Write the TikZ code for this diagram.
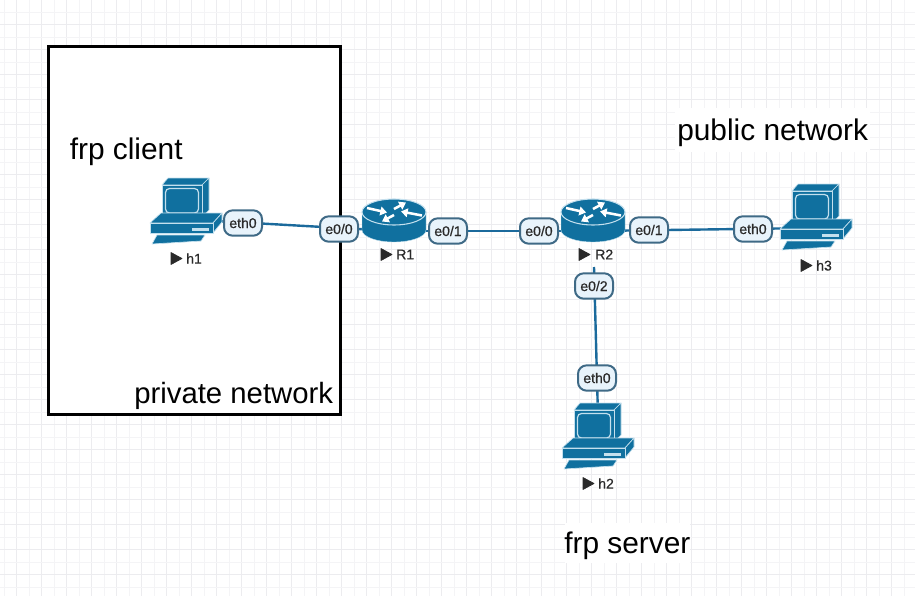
\documentclass[tikz,border=0pt]{standalone}
\usepackage{fontspec}
\usetikzlibrary{arrows.meta}
\setmainfont{Liberation Sans}
\newfontfamily\semib[FakeBold=0.6]{Liberation Sans}
\definecolor{dev}{HTML}{10709F}
\definecolor{devline}{HTML}{C4E0EE}
\definecolor{linkc}{HTML}{1B6A9C}
\definecolor{lblfill}{HTML}{E8F3FB}
\definecolor{lbldraw}{HTML}{3F6A86}
\definecolor{gridc}{HTML}{F4F4F6}
\definecolor{gridd}{HTML}{ECECEF}
\definecolor{txtc}{HTML}{2A2A2A}
\tikzset{
  x=0.75pt,y=-0.75pt,
  link/.style={draw=linkc,line width=1.8pt},
  ifl/.style={draw=lbldraw,line width=1.5pt,fill=lblfill,rounded corners=6.5pt,minimum width=28.5pt,minimum height=19pt,inner sep=0pt,font=\semib\fontsize{10.5}{11}\selectfont,text=txtc},
  big/.style={font=\fontsize{22.4}{26}\selectfont,text=black,inner sep=0pt},
  devname/.style={font=\semib\fontsize{10.5}{11}\selectfont,text=txtc,inner sep=0pt},
  playmark/.style={fill=txtc,draw=txtc,line width=0.5pt,line join=round},
  face/.style={fill=dev,draw=devline,line width=0.5pt,line join=round},
  rarrow/.style={draw=white,line width=1.9pt,-{Triangle[length=5pt,width=6.5pt]}},
  pc/.pic={
    \path[face] (12,7)--(18,0)--(59,0)--(52,7)--cycle;
    \path[face] (52,7)--(59,0)--(59,32)--(52,39)--cycle;
    \path[face] (12,7)--(52,7)--(52,39)--(12,39)--cycle;
    \path[draw=devline,line width=0.9pt,rounded corners=3pt] (15.5,10.5) rectangle (48.5,35);
    \path[face] (0,45)--(11,35)--(72,35)--(63,45)--cycle;
    \path[face] (63,45)--(72,35)--(72,44)--(63,55)--cycle;
    \path[face] (0,45)--(63,45)--(63,55)--(0,55)--cycle;
    \path[fill=devline] (42,50) rectangle (59,52.5);
    \path[face] (7,57)--(55,57)--(51,63)--(2,66)--cycle;
  },
  rt/.pic={
    \path[fill=dev,draw=devline,line width=0.3pt] (-32,0)--(-32,18) arc[start angle=180,end angle=0,x radius=32,y radius=12]--(32,0)--cycle;
    \path[fill=dev,draw=devline,line width=0.8pt] (0,0) ellipse[x radius=32,y radius=13];
    \draw[rarrow] (-27,-4)--(-7,0.5);
    \draw[rarrow] (28,3.5)--(7,-0.5);
    \draw[rarrow] (0,-3)--(12,-9.5);
    \draw[rarrow] (0,3)--(-12,9.5);
  }
}
\begin{document}
\begin{tikzpicture}
\useasboundingbox (0,0) rectangle (915,596);
\fill[white] (0,0) rectangle (915,596);
% grid
\foreach \g in {0,...,73} {
  \pgfmathparse{int(mod(\g,2))}
  \ifnum\pgfmathresult=1 \def\gc{gridd}\else\def\gc{gridc}\fi
  \draw[\gc,line width=0.75pt] ({4.2+12.5*\g},0)--({4.2+12.5*\g},596);}
\foreach \g in {1,...,47} {
  \pgfmathparse{int(mod(\g,2))}
  \ifnum\pgfmathresult=0 \def\gc{gridd}\else\def\gc{gridc}\fi
  \draw[\gc,line width=0.75pt] (0,{-0.2+12.5*\g})--(915,{-0.2+12.5*\g});}
% private network box
\node[draw=black,line width=2.25pt,fill=white,minimum width=219pt,minimum height=276pt,inner sep=0pt] (box) at (194.5,230.5) {};
% attachment coordinates
\coordinate (h1) at (190,219.5);
\coordinate (r1) at (394,231);
\coordinate (r2) at (593,231);
\coordinate (h3) at (815,228);
\coordinate (h2) at (598.5,435);
\coordinate (r2b) at (594,267);
% connectors
\draw[link] (h1)--(r1);
\draw[link] (r1)--(r2);
\draw[link] (r2)--(h3);
\draw[link] (r2b)--(h2);
% devices
\pic at (150,178) {pc};
\pic at (562,403) {pc};
\pic at (780,184) {pc};
\pic at (394,212) {rt};
\pic at (593,212) {rt};
% device names
\node[devname,anchor=west] (nh1) at (186,258.5) {h1};
\node[devname,anchor=west] (nr1) at (396,254.5) {R1};
\node[devname,anchor=west] (nr2) at (595,254.5) {R2};
\node[devname,anchor=west] (nh3) at (816,265.5) {h3};
\node[devname,anchor=west] (nh2) at (598,483.5) {h2};
\path[playmark] (171,252.5)--(182,258.5)--(171,264.5)--cycle;
\path[playmark] (381,248.5)--(392,254.5)--(381,260.5)--cycle;
\path[playmark] (579,248.5)--(590,254.5)--(579,260.5)--cycle;
\path[playmark] (801,259.5)--(812,265.5)--(801,271.5)--cycle;
\path[playmark] (583,477.5)--(594,483.5)--(583,489.5)--cycle;
% interface labels
\node[ifl] (a) at (243,223) {eth0};
\node[ifl] (b) at (339,229) {e0/0};
\node[ifl] (c) at (448,231) {e0/1};
\node[ifl] (d) at (539,231) {e0/0};
\node[ifl] (e) at (649,230) {e0/1};
\node[ifl] (f) at (594,286) {e0/2};
\node[ifl] (g) at (753,229) {eth0};
\node[ifl] (i) at (597,378) {eth0};
% white patches behind free text
\fill[white] (675,108) rectangle (870,152);
\fill[white] (565,523) rectangle (690,563);
% big text
\node[big,anchor=base west] (t1) at (69.5,159) {frp client};
\node[big,anchor=base west,font=\fontsize{22}{26}\selectfont] (t2) at (134,403) {private network};
\node[big,anchor=base west] (t3) at (677,140) {public network};
\node[big,anchor=base west] (t4) at (564,553) {frp server};
\end{tikzpicture}
\end{document}
